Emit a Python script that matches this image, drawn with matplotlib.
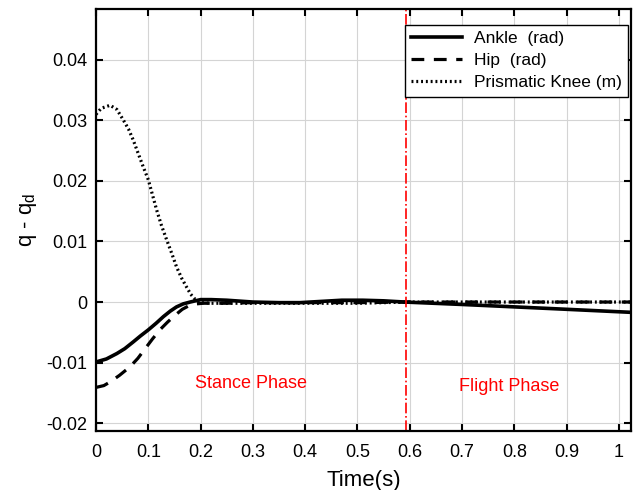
import matplotlib.pyplot as plt
import numpy as np

plt.rcParams['font.family'] = ['Liberation Sans', 'DejaVu Sans']
plt.rcParams['mathtext.fontset'] = 'custom'
plt.rcParams['mathtext.rm'] = 'Liberation Sans'

# values
t_knee = [0, 0.01, 0.027, 0.04, 0.052, 0.062, 0.071, 0.08, 0.09, 0.1, 0.108,
          0.116, 0.125, 0.135, 0.145, 0.154, 0.164, 0.173, 0.181, 0.189, 0.2,
          0.22, 0.25, 0.3, 0.35, 0.4, 0.45, 0.5, 0.55, 0.6, 0.7, 0.8, 0.9, 1.023]
knee = [0.0310, 0.0320, 0.0325, 0.0318, 0.0301, 0.0286, 0.0268, 0.0247, 0.0224,
        0.0202, 0.0177, 0.0152, 0.0127, 0.0103, 0.0080, 0.0058, 0.0039, 0.0025,
        0.0013, 0.0005, -0.0001, -0.0002, -0.0002, -0.0002, -0.0002, -0.0002,
        -0.0002, -0.0002, -0.0001, 0.0, 0.0, 0.0, 0.0, 0.0]

t_ankle = [0, 0.02, 0.04, 0.055, 0.071, 0.085, 0.1, 0.115, 0.129, 0.142, 0.154,
           0.167, 0.18, 0.19, 0.2, 0.22, 0.25, 0.3, 0.35, 0.39, 0.43, 0.47,
           0.51, 0.55, 0.59, 0.7, 0.8, 0.9, 1.023]
ankle = [-0.0099, -0.0094, -0.0085, -0.0077, -0.0066, -0.0056, -0.0046,
         -0.0035, -0.0024, -0.0015, -0.0008, -0.0003, 0.0, 0.0002, 0.0004,
         0.0004, 0.0003, 0.0, -0.0001, -0.0001, 0.0001, 0.0003, 0.0003, 0.0002,
         0.0, -0.0004, -0.0008, -0.0012, -0.0017]

t_hip = [0, 0.015, 0.027, 0.045, 0.065, 0.08, 0.094, 0.108, 0.122, 0.137,
         0.151, 0.165, 0.18, 0.192, 0.205, 0.25, 0.3, 0.4, 0.5, 0.6, 0.7, 0.8,
         0.9, 1.023]
hip = [-0.0141, -0.0138, -0.0132, -0.0121, -0.0107, -0.0093, -0.0077, -0.0061,
       -0.0046, -0.0033, -0.0022, -0.0012, -0.0005, -0.0003, -0.0002, -0.0002,
       -0.0001, -0.0001, -0.0001, 0.0, 0.0, 0.0, 0.0, 0.0]

t_switch = 0.592
x_ticks = np.arange(0, 1.01, 0.1)
y_ticks = [-0.02, -0.01, 0, 0.01, 0.02, 0.03, 0.04]

fig = plt.figure(figsize=(6.35, 4.9), dpi=100)
ax = fig.add_axes([96 / 635, 59 / 490, 535 / 635, 422 / 490])

ax.plot(t_ankle, ankle, color='black', lw=2.6, label='Ankle  (rad)')
ax.plot(t_hip, hip, color='black', lw=2.3, ls=(0, (4, 3)), label='Hip  (rad)')
ax.plot(t_knee, knee, color='black', lw=2.3, ls=(0, (0.6, 0.9)), label='Prismatic Knee (m)')
ax.axvline(t_switch, color='red', lw=1.2, ls='-.')

ax.text(0.297, -0.0134, 'Stance Phase', color='red', fontsize=13, ha='center', va='center')
ax.text(0.79, -0.014, 'Flight Phase', color='red', fontsize=13, ha='center', va='center')

ax.set_xlim(0, 1.023)
ax.set_ylim(-0.0213, 0.0484)
ax.set_xticks(x_ticks)
ax.set_xticklabels(['0'] + ['%.1f' % v for v in x_ticks[1:-1]] + ['1'])
ax.set_yticks(y_ticks)
ax.set_yticklabels(['-0.02', '-0.01', '0', '0.01', '0.02', '0.03', '0.04'])
ax.grid(True, color='#d4d4d4', lw=0.8)
ax.tick_params(direction='in', top=True, right=True, length=5, width=1.5,
               labelsize=13, pad=6)
ax.tick_params(axis='x', pad=9)
for s in ax.spines.values():
    s.set_linewidth(1.6)

ax.set_xlabel('Time(s)', fontsize=16, labelpad=7)
ax.set_ylabel('q - q$_\\mathrm{d}$', fontsize=16)
ax.yaxis.set_label_coords(-0.107, 0.5)

leg = ax.legend(loc='upper right', bbox_to_anchor=(0.994, 0.962), fontsize=12.5,
                fancybox=False, framealpha=1, edgecolor='black', borderpad=0.35,
                labelspacing=0.4, handlelength=2.9, handletextpad=0.7,
                borderaxespad=0)
leg.get_frame().set_linewidth(1.0)

fig.savefig('out.png', dpi=100)
